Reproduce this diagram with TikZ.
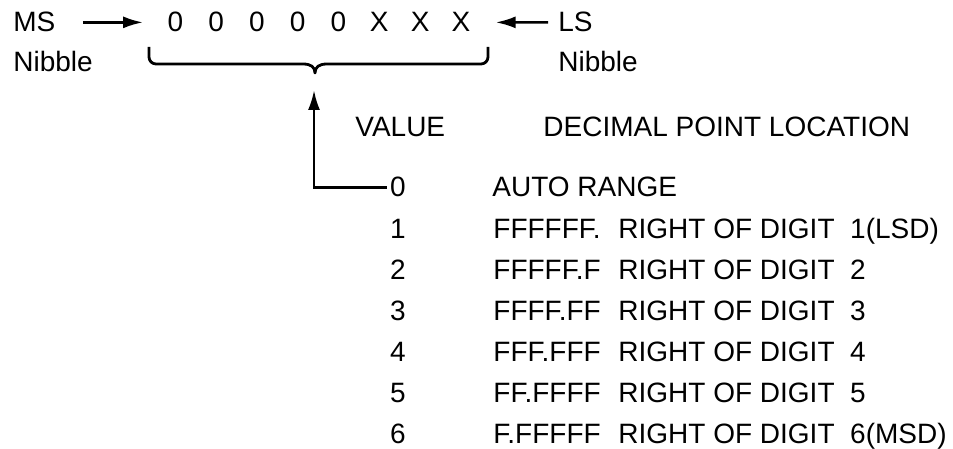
\documentclass[tikz,border=0pt]{standalone}
\usepackage{fontspec}
\setmainfont{Liberation Sans}
\usetikzlibrary{arrows.meta}
\tikzset{
  txt/.style={inner sep=0pt, anchor=base west, font=\fontsize{14}{17}\selectfont},
  arr/.style={line width=1.3pt, -{Latex[length=10pt,width=6pt]}},
}
\begin{document}
\begin{tikzpicture}[x=0.5pt,y=-0.5pt]
		\useasboundingbox (0,0) rectangle (953,449);
		% Nibble labels
		\node[txt] (ms) at (13,32) {MS};
		\node[txt] (msnib) at (13,72) {Nibble};
		\node[txt] (ls) at (558,32) {LS};
		\node[txt] (lsnib) at (558,72) {Nibble};
		% Digits
		\foreach \c [count=\i] in {0,0,0,0,0,X,X,X}
		\node[txt,anchor=base] (d\i) at (134.5+40.8*\i,32) {\c};
		\draw[arr,shorten <=13.5pt,shorten >=12pt] (ms.east) -- (d1.west);
		\draw[arr,shorten <=5pt,shorten >=12.5pt] (ls.west) -- (d8.east);
		% Brace
		\draw[line width=1.4pt,line join=round] (149,47) -- (149,57) arc (180:90:7) -- (303,64)
		.. controls (311,64) and (315,67) .. (315,73)
		.. controls (315,67) and (319,64) .. (327,64) -- (481,64) arc (90:0:7) -- (488,47);
		\coordinate (tip) at (314,90);
		% Table heads
		\node[txt] (value) at (355,136) {VALUE};
		\node[txt] (dpl) at (543,136) {DECIMAL POINT LOCATION};
		% Rows
		\node[txt,anchor=base] (v0) at (398,197) {0};
		\node[txt] (p0) at (492,197) {AUTO RANGE};
		\foreach \i/\pat/\dig in {1/FFFFFF./1(LSD),2/FFFFF.F/2,3/FFFF.FF/3,4/FFF.FFF/4,5/FF.FFFF/5,6/F.FFFFF/6(MSD)}{
		\node[txt,anchor=base] (v\i) at (398,197+41*\i) {\i};
		\node[txt] (p\i) at (493,197+41*\i) {\pat};
		\node[txt] (r\i) at (618,197+41*\i) {RIGHT OF DIGIT~~\dig};
		}
		% Pointer
		\draw[arr,line join=miter,shorten <=1.5pt] (v0.west) -| (tip);
\end{tikzpicture}
\end{document}
